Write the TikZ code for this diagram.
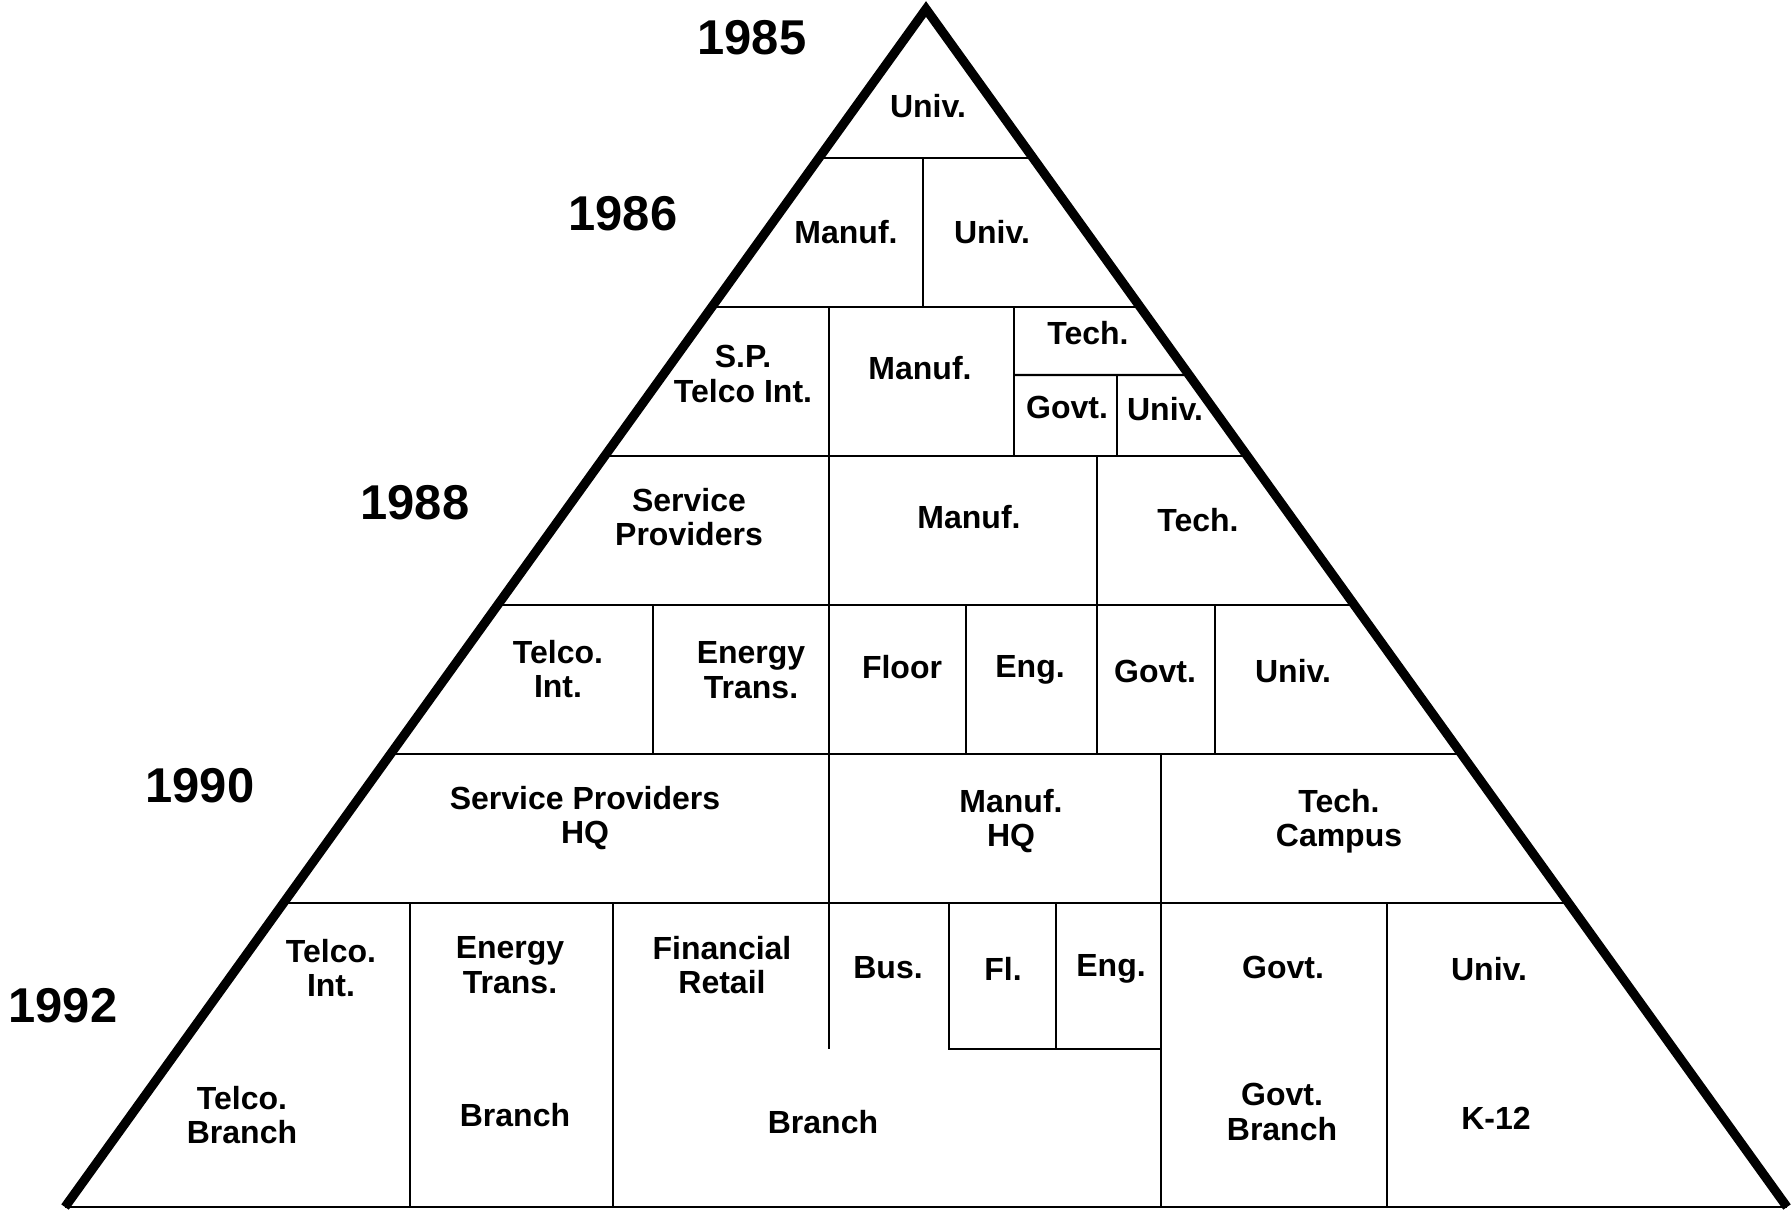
\documentclass[tikz,border=0pt]{standalone}
\usepackage{fontspec}
\setmainfont{Liberation Sans}
\usetikzlibrary{calc}

\begin{document}
\begin{tikzpicture}[x=0.01cm, y=-0.01cm,
        lbl/.style={align=center, inner sep=0pt, font=\fontsize{9.1}{9.8}\selectfont\bfseries},
        year/.style={inner sep=0pt, font=\fontsize{13.9}{16}\selectfont\bfseries},
        part/.style={line width=0.6pt}]
        \useasboundingbox (0,0) rectangle (1792,1209);

        \coordinate (top) at (926, 9);
        \coordinate (bl) at (65, 1207);
        \coordinate (br) at (1787, 1207);

        % rows
        \foreach \k in {1,...,6} {
            \coordinate (l\k) at ($(top)!\k*0.12437!(bl)$);
            \coordinate (r\k) at ($(top)!\k*0.12437!(br)$);
            \draw[part] (l\k) -- (r\k);
        }
        \coordinate (rs) at ($(top)!0.3055!(br)$);
        \draw[part] (1014,375) -- (rs);
        \draw[part] (bl) -- (br);

        % cell walls
        \draw[part] (923,158) -- (923,307);
        \draw[part] (829,307) -- (829,1049);
        \draw[part] (1014,307) -- (1014,456);
        \draw[part] (1117,375) -- (1117,456);
        \draw[part] (1097,456) -- (1097,754);
        \draw[part] (653,605) -- (653,754);
        \draw[part] (966,605) -- (966,754);
        \draw[part] (1215,605) -- (1215,754);
        \draw[part] (1161,754) -- (1161,1207);
        \draw[part] (410,903) -- (410,1207);
        \draw[part] (613,903) -- (613,1207);
        \draw[part] (949,903) -- (949,1049) -- (1161,1049);
        \draw[part] (1056,903) -- (1056,1049);
        \draw[part] (1387,903) -- (1387,1207);

        % outline
        \draw[line width=2.6pt] (bl) -- (top) -- (br);

        % years
        \node[year] (y85) at (752,38) {1985};
        \node[year] (y86) at (623,214) {1986};
        \node[year] (y88) at (415,503) {1988};
        \node[year] (y90) at (200,786) {1990};
        \node[year] (y92) at (63,1006) {1992};

        % 1985 - 1987
        \node[lbl] (u85) at (928,106) {Univ.};
        \node[lbl] (m86) at (846,232) {Manuf.};
        \node[lbl] (u86) at (992,232) {Univ.};
        \node[lbl] (sp87) at (743,374) {S.P.\\Telco Int.};
        \node[lbl] (m87) at (920,368) {Manuf.};
        \node[lbl] (t87) at (1088,333) {Tech.};
        \node[lbl] (g87) at (1067,407) {Govt.};
        \node[lbl] (u87) at (1165,409) {Univ.};

        % 1988 - 1989
        \node[lbl] (sp88) at (689,517) {Service\\Providers};
        \node[lbl] (m88) at (969,517) {Manuf.};
        \node[lbl] (t88) at (1198,520) {Tech.};
        \node[lbl] (ti89) at (558,669) {Telco.\\Int.};
        \node[lbl] (et89) at (751,670) {Energy\\Trans.};
        \node[lbl] (f89) at (902,667) {Floor};
        \node[lbl] (e89) at (1030,670) {Eng.};
        \node[lbl] (g89) at (1155,671) {Govt.};
        \node[lbl] (u89) at (1293,671) {Univ.};

        % 1990
        \node[lbl] (sp90) at (585,818) {Service Providers\\HQ};
        \node[lbl] (m90) at (1011,821) {Manuf.\\HQ};
        \node[lbl] (t90) at (1339,821) {Tech.\\Campus};

        % 1992
        \node[lbl] (ti92) at (331,968) {Telco.\\Int.};
        \node[lbl] (et92) at (510,965) {Energy\\Trans.};
        \node[lbl] (fr92) at (722,965) {Financial\\Retail};
        \node[lbl] (b92) at (888,968) {Bus.};
        \node[lbl] (fl92) at (1003,969) {Fl.};
        \node[lbl] (e92) at (1111,969) {Eng.};
        \node[lbl] (g92) at (1283,967) {Govt.};
        \node[lbl] (u92) at (1489,969) {Univ.};
        \node[lbl] (tb92) at (242,1115) {Telco.\\Branch};
        \node[lbl] (br1) at (515,1115) {Branch};
        \node[lbl] (br2) at (823,1122) {Branch};
        \node[lbl] (gb92) at (1282,1112) {Govt.\\Branch};
        \node[lbl] (k92) at (1496,1118) {K-12};
    \end{tikzpicture}
\end{document}
